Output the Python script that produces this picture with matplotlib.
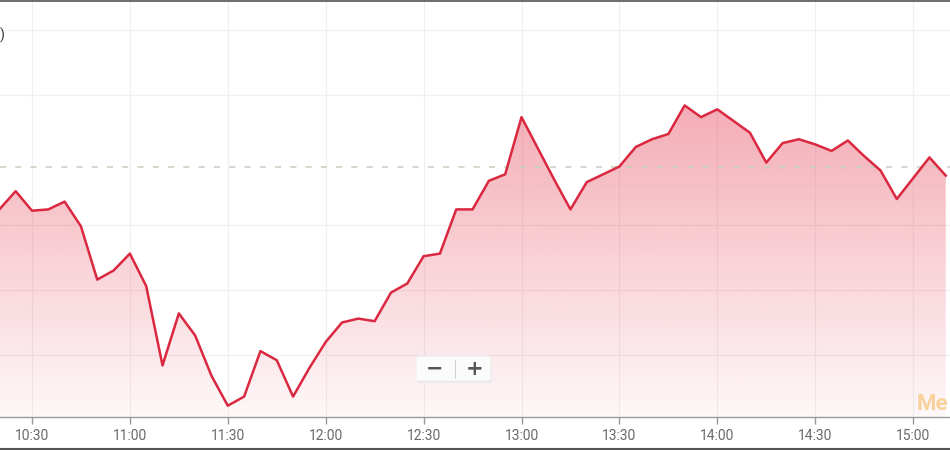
import numpy as np
import pandas as pd
import matplotlib
matplotlib.use("Agg")
import matplotlib.pyplot as plt
import matplotlib.dates as mdates
from matplotlib.patches import FancyBboxPatch
from matplotlib.lines import Line2D

plt.rcParams['font.family'] = ['Roboto', 'DejaVu Sans']

# intraday prices, one point every 5 minutes from 10:20 to 15:10
start_time = "2024-01-02 10:20"
end_time = "2024-01-02 15:10"
prices = [11.62, 11.76, 11.61, 11.62, 11.68, 11.49, 11.08, 11.15, 11.28, 11.03,
          10.42, 10.82, 10.65, 10.34, 10.11, 10.18, 10.53, 10.46, 10.18, 10.40,
          10.60, 10.75, 10.78, 10.76, 10.98, 11.05, 11.26, 11.28, 11.62, 11.62,
          11.84, 11.89, 12.33, 12.09, 11.85, 11.62, 11.83, 11.89, 11.95, 12.10,
          12.16, 12.20, 12.42, 12.33, 12.39, 12.30, 12.21, 11.98, 12.13, 12.16,
          12.12, 12.07, 12.15, 12.03, 11.92, 11.70, 11.86, 12.02, 11.88]
prev_close = 11.95
tick_labels = ["10:30", "11:00", "11:30", "12:00", "12:30",
               "13:00", "13:30", "14:00", "14:30", "15:00"]
grid_levels = [10.5, 11.0, 11.5, 12.5, 13.0]

times = pd.date_range(start_time, end_time, freq="5min")
x = mdates.date2num(times)
y = np.array(prices)

fig = plt.figure(figsize=(9.5, 4.5), dpi=100)
ax = fig.add_axes([0, 33 / 450, 1, 417 / 450])

day = "2024-01-02 "
x0 = mdates.date2num(pd.Timestamp(day + "10:20:12"))
x1 = mdates.date2num(pd.Timestamp(day + "15:11:18"))
y0, y1 = 10.023, 13.231
ax.set_xlim(x0, x1)
ax.set_ylim(y0, y1)

# gradient fill under the line
n = 256
alpha = np.linspace(0.04, 0.50, n)
grad = np.zeros((n, 1, 4))
grad[:, 0, 0] = 232 / 255
grad[:, 0, 1] = 78 / 255
grad[:, 0, 2] = 98 / 255
grad[:, 0, 3] = alpha
im = ax.imshow(grad, origin="lower", aspect="auto",
               extent=[x0, x1, y0, 12.6], zorder=1)
poly = ax.fill_between(x, y, y0, color="none", lw=0)
clip = poly.get_paths()[0]
im.set_clip_path(clip, transform=ax.transData)

ax.plot(x, y, color="#d9283f", lw=1.8, zorder=3)
ax.axhline(prev_close, color="#c3d0bd", lw=1.1, ls=(0, (4, 6)), zorder=2)

# grid
tick_pos = [mdates.date2num(pd.Timestamp(day + t)) for t in tick_labels]
for t in tick_pos:
    ax.axvline(t, color="#f0f0f0", lw=0.9, zorder=0.5)
for g in grid_levels:
    ax.axhline(g, color="#f0f0f0", lw=0.9, zorder=0.5)

ax.set_xticks(tick_pos)
ax.set_xticklabels(tick_labels)
ax.set_yticks([])
ax.tick_params(axis="x", colors="#999999", labelcolor="#6a6a6a",
               labelsize=10, length=5, width=1, pad=4)
for s in ["top", "left", "right"]:
    ax.spines[s].set_visible(False)
ax.spines["bottom"].set_color("#9a9a9a")
ax.spines["bottom"].set_linewidth(1)
ax.patch.set_alpha(0)

# cut-off axis label at top left
fig.text(0 / 950, 1 - 35 / 450, ")", ha="left", va="center",
         fontsize=10, color="#333333")

# watermark, cut by the right edge
fig.text(917 / 950, 1 - 404 / 450, "Me", ha="left", va="center",
         fontsize=16, fontweight="bold", color="#f8d29a")

# zoom buttons
fig.patches.append(FancyBboxPatch((417 / 950, 1 - 383 / 450), 75 / 950, 25 / 450,
                                  boxstyle="round,pad=0,rounding_size=0.004",
                                  transform=fig.transFigure, facecolor="#e8e8e8",
                                  edgecolor="none", zorder=5))
fig.patches.append(FancyBboxPatch((416 / 950, 1 - 381 / 450), 75 / 950, 25 / 450,
                                  boxstyle="round,pad=0,rounding_size=0.004",
                                  transform=fig.transFigure, facecolor="#fbfbfb",
                                  edgecolor="#efefef", lw=0.8, zorder=6))
fig.lines.append(Line2D([455 / 950, 455 / 950], [1 - 360 / 450, 1 - 378 / 450],
                        transform=fig.transFigure, color="#d0d0d0", lw=0.8, zorder=7))
fig.text(435 / 950, 1 - 369 / 450, "\u2212", ha="center", va="center",
         fontsize=15, fontweight="bold", color="#555555", zorder=8,
         family="DejaVu Sans")
fig.text(474.5 / 950, 1 - 369 / 450, "+", ha="center", va="center",
         fontsize=15, fontweight="bold", color="#555555", zorder=8,
         family="DejaVu Sans")

# screenshot frame lines
fig.lines.append(Line2D([0, 1], [1 - 0.5 / 450, 1 - 0.5 / 450],
                        transform=fig.transFigure, color="#555555", lw=1.2))
fig.lines.append(Line2D([0, 1], [1.5 / 450, 1.5 / 450],
                        transform=fig.transFigure, color="#555555", lw=1.5))

fig.savefig("out.png", dpi=100)
